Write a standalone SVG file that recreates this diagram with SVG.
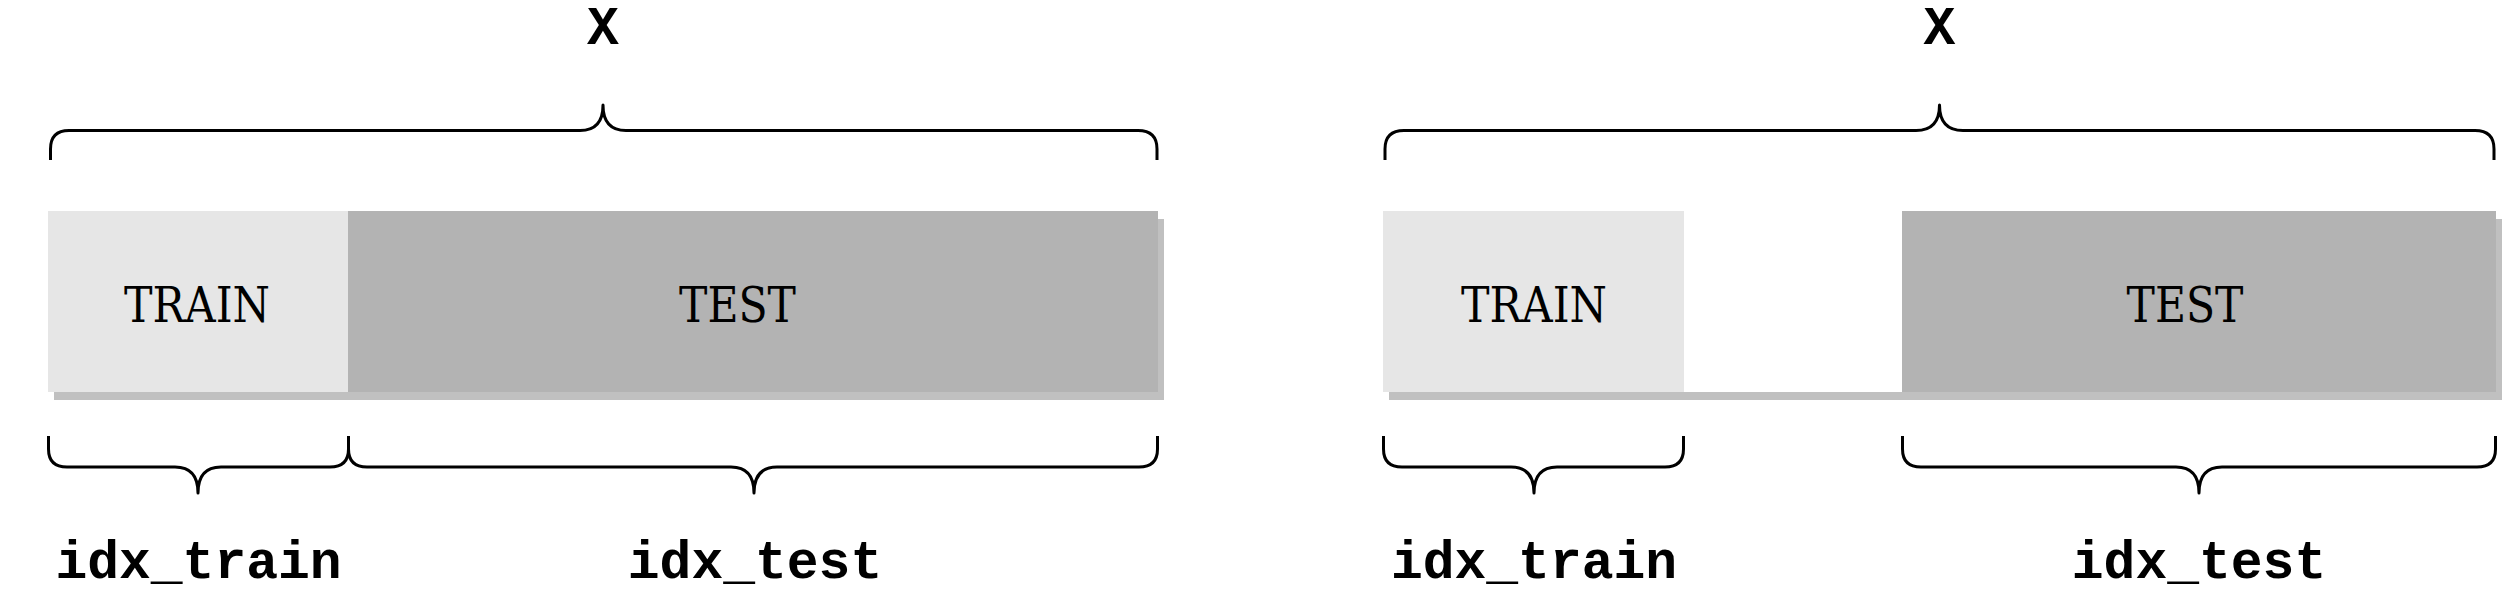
<svg xmlns="http://www.w3.org/2000/svg" width="2502" height="597" viewBox="0 0 2502 597">
<style>
.bg{fill:#ffffff}
.shadow{fill:#c0c0c0}
.train{fill:#e6e6e6}
.test{fill:#b3b3b3}
.lbl{font-family:"DejaVu Serif","Liberation Serif",serif;font-size:49px;fill:#000;text-anchor:middle}
.code{font-family:"Liberation Mono","Courier New",monospace;font-weight:bold;font-size:53px;fill:#000;text-anchor:middle}
.brace{fill:none;stroke:#000;stroke-width:3;stroke-linecap:butt;stroke-linejoin:round}
</style>
<rect width="2502" height="597" fill="#ffffff"/>

<g id="left-panel">
  <g id="left-bar">
    <rect class="shadow" x="54" y="219" width="1110" height="181"/>
    <rect class="bg" x="48" y="211" width="1110" height="181"/>
  </g>
  <g id="left-train">
    <rect class="train" x="48" y="211" width="300" height="181"/>
    <text class="lbl" x="197" y="321.5" textLength="146" lengthAdjust="spacingAndGlyphs">TRAIN</text>
  </g>
  <g id="left-test">
    <rect class="test" x="348" y="211" width="810" height="181"/>
    <text class="lbl" x="737.5" y="321.5" textLength="117" lengthAdjust="spacingAndGlyphs">TEST</text>
  </g>
  <g id="left-X"><text class="code" x="603" y="44">X</text></g>
  <g id="left-idx-train"><text class="code" x="198.5" y="578">idx_train</text></g>
  <g id="left-idx-test"><text class="code" x="755" y="578">idx_test</text></g>
</g>

<g id="right-panel">
  <g id="right-bar">
    <rect class="shadow" x="1389" y="219" width="1113" height="181"/>
    <rect class="bg" x="1383" y="211" width="1113" height="181"/>
  </g>
  <g id="right-train">
    <rect class="train" x="1383" y="211" width="301" height="181"/>
    <text class="lbl" x="1534" y="321.5" textLength="146" lengthAdjust="spacingAndGlyphs">TRAIN</text>
  </g>
  <g id="right-test">
    <rect class="test" x="1902" y="211" width="594" height="181"/>
    <text class="lbl" x="2185" y="321.5" textLength="117" lengthAdjust="spacingAndGlyphs">TEST</text>
  </g>
  <g id="right-X"><text class="code" x="1939.5" y="44">X</text></g>
  <g id="right-idx-train"><text class="code" x="1534" y="578">idx_train</text></g>
  <g id="right-idx-test"><text class="code" x="2199" y="578">idx_test</text></g>
</g>

<g id="connectors">
  <path class="brace" d="M 50.5 160 V 149 Q 50.5 130.5 69 130.5 H 580 Q 603 130.5 603 105 Q 603 130.5 626 130.5 H 1138 Q 1157 130.5 1157 149 V 160"/>
  <path class="brace" d="M 48.5 436 V 449 Q 48.5 467 67 467 H 175 Q 198 467 198 493 Q 198 467 221 467 H 330 Q 348.5 467 348.5 449 V 436"/>
  <path class="brace" d="M 348.5 436 V 449 Q 348.5 467 367 467 H 731 Q 754 467 754 493 Q 754 467 777 467 H 1139 Q 1157.5 467 1157.5 449 V 436"/>
  <path class="brace" d="M 1385 160 V 149 Q 1385 130.5 1404 130.5 H 1916 Q 1939.5 130.5 1939.5 105 Q 1939.5 130.5 1963 130.5 H 2475 Q 2494 130.5 2494 149 V 160"/>
  <path class="brace" d="M 1383.5 436 V 449 Q 1383.5 467 1402 467 H 1511 Q 1534 467 1534 493 Q 1534 467 1557 467 H 1665 Q 1683.5 467 1683.5 449 V 436"/>
  <path class="brace" d="M 1902.5 436 V 449 Q 1902.5 467 1921 467 H 2176 Q 2199 467 2199 493 Q 2199 467 2222 467 H 2477 Q 2495.5 467 2495.5 449 V 436"/>
</g>
</svg>
